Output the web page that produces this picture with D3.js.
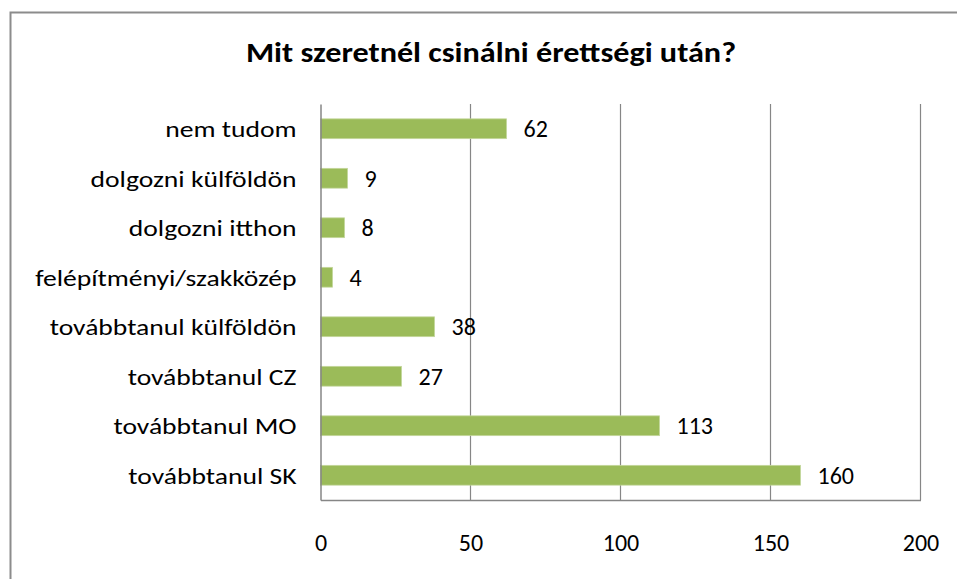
<!DOCTYPE html>
<html>
<head>
<meta charset="utf-8">
<script src="https://cdnjs.cloudflare.com/ajax/libs/d3/7.8.5/d3.min.js"></script>
<style>
  body { margin: 0; background: #fff; }
  svg text { font-family: Carlito, Lato, "Open Sans", sans-serif; fill: #000; }
</style>
</head>
<body>
<svg width="957" height="579"></svg>
<script>
let title = 'Mit szeretnél csinálni érettségi után?';
let categories = ['nem tudom', 'dolgozni külföldön', 'dolgozni itthon', 'felépítményi/szakközép',
  'továbbtanul külföldön', 'továbbtanul CZ', 'továbbtanul MO', 'továbbtanul SK'];
let values = [62, 9, 8, 4, 38, 27, 113, 160];
let ticks = [0, 50, 100, 150, 200];

let svg = d3.select('svg');
let width = 957, height = 579;

/* Plot area, in pixels */
let plotLeft = 320.5, plotRight = 920.5, plotTop = 104, plotBottom = 500;

/* the source picture is a bit wider than the font, so widen the glyphs */
function stretch(sel, sx) {
  sel.each(function() {
    let t = d3.select(this);
    let tx = +t.attr('x') || 0, ty = +t.attr('y') || 0;
    t.attr('x', 0).attr('y', 0).attr('transform', `translate(${tx},${ty}) scale(${sx},1)`);
  });
}

/* Chart border */
svg.append('rect')
  .attr('x', 10.5).attr('y', 12.5)
  .attr('width', width + 10).attr('height', height + 10)
  .attr('fill', 'none').attr('stroke', '#8c8c8c').attr('stroke-width', 2);

svg.append('text')
  .attr('x', 491).attr('y', 62)
  .attr('text-anchor', 'middle')
  .attr('font-size', 28).attr('font-weight', 'bold')
  .text(title)
  .call(stretch, 1.15);

let x = d3.scaleLinear().domain([0, 200]).range([plotLeft, plotRight]);
let y = d3.scaleBand().domain(categories).range([plotTop, plotBottom]).paddingInner(0.6).paddingOuter(0.3);

/* Gridlines */
svg.append('g').selectAll('line').data(ticks.slice(1)).enter().append('line')
  .attr('x1', d => x(d)).attr('x2', d => x(d))
  .attr('y1', plotTop).attr('y2', plotBottom)
  .attr('stroke', '#868686').attr('stroke-width', 1.2);

/* Bars */
svg.append('g').selectAll('rect').data(values).enter().append('rect')
  .attr('x', x(0))
  .attr('y', (d, i) => y(categories[i]))
  .attr('width', d => x(d) - x(0))
  .attr('height', y.bandwidth())
  .attr('fill', '#9bbb59')
  .attr('stroke', '#c3d69b').attr('stroke-width', 0.8);

/* Value labels */
svg.append('g').selectAll('text').data(values).enter().append('text')
  .attr('x', d => x(d) + 17)
  .attr('y', (d, i) => y(categories[i]) + y.bandwidth() / 2)
  .attr('dy', '0.36em')
  .attr('font-size', 24)
  .text(d => d);

/* Axes */
let xAxis = svg.append('g').attr('transform', `translate(0,${plotBottom})`)
  .call(d3.axisBottom(x).tickValues(ticks).tickSize(0).tickPadding(34));
let yAxis = svg.append('g').attr('transform', `translate(${plotLeft},0)`)
  .call(d3.axisLeft(y).tickSize(0).tickPadding(24));

[xAxis, yAxis].forEach(g => {
  g.select('.domain').attr('stroke', '#868686').attr('stroke-width', 1.5);
  g.selectAll('text').attr('font-size', 24).attr('font-family', null);
});
yAxis.selectAll('text').attr('font-size', 23).attr('dy', '0.36em').call(stretch, 1.2);
</script>
</body>
</html>
